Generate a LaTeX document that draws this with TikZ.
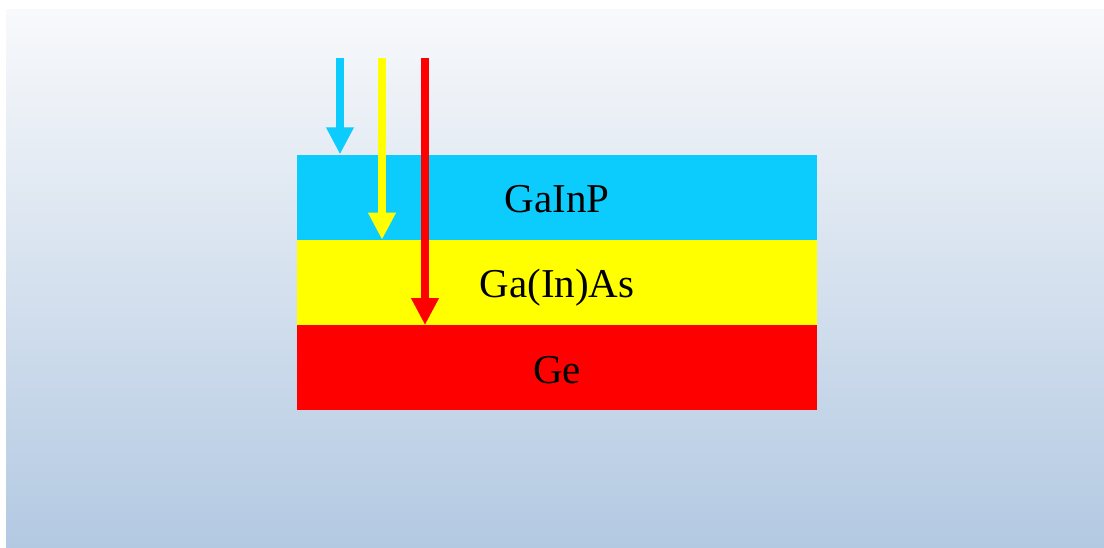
\documentclass[tikz,border=0pt]{standalone}
\usepackage{fontspec}
\setmainfont{Liberation Serif}
\usepackage{xcolor}
\usepackage{tikz}
\usetikzlibrary{arrows.meta,positioning}
\definecolor{topc}{HTML}{0BCCFD}
\definecolor{midc}{HTML}{FFFF00}
\definecolor{botc}{HTML}{FF0000}
\definecolor{bgtop}{HTML}{F8F9FB}
\definecolor{bgbot}{HTML}{B3C9E2}
\tikzset{
  layer/.style={draw=none,minimum width=520pt,minimum height=85pt,inner sep=0pt,
    font=\fontsize{41}{48}\selectfont,text height=31pt,text depth=0pt},
  ray/.style={-{Triangle[width=26pt,length=27pt]},line width=8pt}
}
\begin{document}
\begin{tikzpicture}[x=1pt,y=-1pt]
\useasboundingbox (0,0) rectangle (1104,547);
\shade[top color=bgtop,bottom color=bgbot] (6,9) rectangle (1104,547);
% layer stack
\node[layer,fill=topc] (gainp) at (557,197) {GaInP};
\node[layer,fill=midc,below=0pt of gainp] (gaas) {Ga(In)As};
\node[layer,fill=botc,below=0pt of gaas] (ge) {Ge};
% incoming light
\coordinate (s1) at (340,58);
\coordinate (s2) at (382,58);
\coordinate (s3) at (425,58);
\draw[ray,topc] (s1) -- (s1 |- gainp.north);
\draw[ray,midc] (s2) -- (s2 |- gaas.north);
\draw[ray,botc] (s3) -- (s3 |- ge.north);
\end{tikzpicture}
\end{document}
